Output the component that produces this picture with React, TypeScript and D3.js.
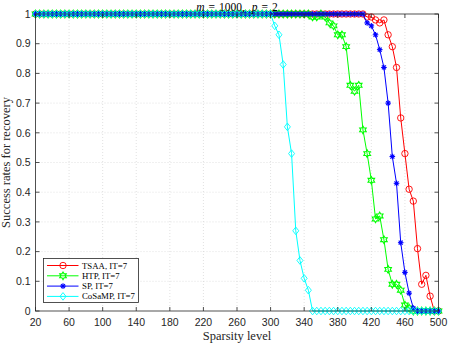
import React from "react";
import * as d3 from "d3";

// sparsity levels 20..500, step 5
const sparsity = [
  20, 25, 30, 35, 40, 45, 50, 55, 60, 65, 70, 75, 80, 85, 90, 95, 100, 105, 110, 115,
  120, 125, 130, 135, 140, 145, 150, 155, 160, 165, 170, 175, 180, 185, 190, 195, 200,
  205, 210, 215, 220, 225, 230, 235, 240, 245, 250, 255, 260, 265, 270, 275, 280, 285,
  290, 295, 300, 305, 310, 315, 320, 325, 330, 335, 340, 345, 350, 355, 360, 365, 370,
  375, 380, 385, 390, 395, 400, 405, 410, 415, 420, 425, 430, 435, 440, 445, 450, 455,
  460, 465, 470, 475, 480, 485, 490, 495, 500,
];

// TSAA: 20..410 all recovered
const tsaa = [
  1, 1, 1, 1, 1, 1, 1, 1, 1, 1, 1, 1, 1, 1, 1, 1, 1, 1, 1, 1,
  1, 1, 1, 1, 1, 1, 1, 1, 1, 1, 1, 1, 1, 1, 1, 1, 1, 1, 1, 1,
  1, 1, 1, 1, 1, 1, 1, 1, 1, 1, 1, 1, 1, 1, 1, 1, 1, 1, 1, 1,
  1, 1, 1, 1, 1, 1, 1, 1, 1, 1, 1, 1, 1, 1, 1, 1, 1, 1, 1,
  0.99, 0.99, 0.98, 0.97, 0.98, 0.93, 0.89, 0.82, 0.65, 0.53, 0.41, 0.37, 0.21, 0.09,
  0.12, 0.05, 0, 0,
];

const htp = [
  1, 1, 1, 1, 1, 1, 1, 1, 1, 1, 1, 1, 1, 1, 1, 1, 1, 1, 1, 1,
  1, 1, 1, 1, 1, 1, 1, 1, 1, 1, 1, 1, 1, 1, 1, 1, 1, 1, 1, 1,
  1, 1, 1, 1, 1, 1, 1, 1, 1, 1, 1, 1, 1, 1, 1, 1, 1, 1, 1, 1,
  1, 1, 1, 1, 1, 1,
  0.99, 0.99, 1, 0.99, 0.97, 0.96, 0.93, 0.93, 0.89, 0.76, 0.74, 0.76, 0.61, 0.53,
  0.44, 0.31, 0.32, 0.24, 0.14, 0.09, 0.09, 0.07, 0.02, 0.01,
  0, 0, 0, 0, 0, 0, 0,
];

const sp = [
  1, 1, 1, 1, 1, 1, 1, 1, 1, 1, 1, 1, 1, 1, 1, 1, 1, 1, 1, 1,
  1, 1, 1, 1, 1, 1, 1, 1, 1, 1, 1, 1, 1, 1, 1, 1, 1, 1, 1, 1,
  1, 1, 1, 1, 1, 1, 1, 1, 1, 1, 1, 1, 1, 1, 1, 1, 1, 1, 1, 1,
  1, 1, 1, 1, 1, 1, 1, 1, 1, 1, 1, 1, 1, 1, 1, 1, 1, 1, 1,
  0.97, 0.96, 0.93, 0.88, 0.82, 0.7, 0.52, 0.43, 0.23, 0.13, 0.06, 0.01,
  0, 0, 0, 0, 0, 0,
];

const cosamp = [
  1, 1, 1, 1, 1, 1, 1, 1, 1, 1, 1, 1, 1, 1, 1, 1, 1, 1, 1, 1,
  1, 1, 1, 1, 1, 1, 1, 1, 1, 1, 1, 1, 1, 1, 1, 1, 1, 1, 1, 1,
  1, 1, 1, 1, 1, 1, 1, 1, 1, 1, 1, 1, 1, 1, 1, 1, 1,
  0.96, 0.93, 0.83, 0.62, 0.53, 0.27, 0.17, 0.11, 0.07,
  0, 0, 0, 0, 0, 0, 0, 0, 0, 0, 0, 0, 0, 0, 0, 0,
  0, 0, 0, 0, 0, 0, 0, 0, 0, 0, 0, 0, 0, 0, 0,
];

const xTicks = [20, 60, 100, 140, 180, 220, 260, 300, 340, 380, 420, 460, 500];
const yTicks = [0, 0.1, 0.2, 0.3, 0.4, 0.5, 0.6, 0.7, 0.8, 0.9, 1];

const seriesList = [
  { name: "TSAA, IT=7", values: tsaa, color: "#ff0000", marker: "circle" },
  { name: "HTP, IT=7", values: htp, color: "#00ff00", marker: "hexagram" },
  { name: "SP, IT=7", values: sp, color: "#0000ff", marker: "asterisk" },
  { name: "CoSaMP, IT=7", values: cosamp, color: "#00ffff", marker: "diamond" },
];

const W = 449;
const H = 345;
const left = 35.5;
const right = 438.5;
const top = 14;
const bottom = 311;
const axisColor = "#262626";
const sans = "'Liberation Sans', Arial, sans-serif";
const serif = "'Liberation Serif', 'Times New Roman', serif";

// 6 pointed star outline
const hexagramPath = (R: number) => {
  const r = R / Math.sqrt(3);
  const pts: string[] = [];
  for (let k = 0; k < 12; k++) {
    const a = (Math.PI / 6) * k - Math.PI / 2;
    const rr = k % 2 === 0 ? R : r;
    pts.push(`${(rr * Math.cos(a)).toFixed(2)},${(rr * Math.sin(a)).toFixed(2)}`);
  }
  return "M" + pts.join("L") + "Z";
};

const Marker = ({ type, x, y, color }: { type: string; x: number; y: number; color: string }) => {
  if (type === "circle") {
    return <circle cx={x} cy={y} r={3.2} fill="none" stroke={color} strokeWidth={0.9} />;
  }
  if (type === "hexagram") {
    return (
      <path d={hexagramPath(3.8)} transform={`translate(${x},${y})`} fill="none" stroke={color} strokeWidth={1.1} />
    );
  }
  if (type === "asterisk") {
    const s = 2.8;
    const d = s * 0.72;
    return (
      <g transform={`translate(${x},${y})`} stroke={color} strokeWidth={1.1}>
        <line x1={-s} y1={0} x2={s} y2={0} />
        <line x1={0} y1={-s} x2={0} y2={s} />
        <line x1={-d} y1={-d} x2={d} y2={d} />
        <line x1={-d} y1={d} x2={d} y2={-d} />
        <circle r={1.3} fill={color} stroke="none" />
      </g>
    );
  }
  return (
    <path
      d="M0,-3.8L3,0L0,3.8L-3,0Z"
      transform={`translate(${x},${y})`}
      fill="none"
      stroke={color}
      strokeWidth={0.9}
    />
  );
};

export default function App() {
  const x = d3.scaleLinear().domain([20, 500]).range([left, right]);
  const y = d3.scaleLinear().domain([0, 1]).range([bottom, top]);

  const line = d3
    .line<number>()
    .x((_, i) => x(sparsity[i]))
    .y((d) => y(d));

  const legendX = 43.5;
  const legendY = 258.5;

  return (
    <svg
      width={W}
      height={H}
      style={{ position: "absolute", left: 0, top: 0, background: "#fff" }}
    >
      <rect x={0} y={0} width={W} height={H} fill="#fff" />

      {/* grid */}
      <g stroke="#cfcfcf" strokeWidth={0.6} strokeDasharray="1,2">
        {xTicks.slice(1, -1).map((t) => (
          <line key={"gx" + t} x1={x(t)} x2={x(t)} y1={top} y2={bottom} />
        ))}
        {yTicks.slice(1, -1).map((t) => (
          <line key={"gy" + t} x1={left} x2={right} y1={y(t)} y2={y(t)} />
        ))}
      </g>

      {/* series */}
      {seriesList.map((s) => (
        <g key={s.name}>
          <path d={line(s.values) || ""} fill="none" stroke={s.color} strokeWidth={1} />
          {s.values.map((v, i) => (
            <Marker key={i} type={s.marker} x={x(sparsity[i])} y={y(v)} color={s.color} />
          ))}
        </g>
      ))}

      {/* axes box + ticks */}
      <rect x={left} y={top} width={right - left} height={bottom - top} fill="none" stroke={axisColor} strokeWidth={0.8} />
      <g stroke={axisColor} strokeWidth={0.8}>
        {xTicks.map((t) => (
          <g key={"tx" + t}>
            <line x1={x(t)} x2={x(t)} y1={bottom} y2={bottom - 4} />
            <line x1={x(t)} x2={x(t)} y1={top} y2={top + 4} />
          </g>
        ))}
        {yTicks.map((t) => (
          <g key={"ty" + t}>
            <line x1={left} x2={left + 4} y1={y(t)} y2={y(t)} />
            <line x1={right} x2={right - 4} y1={y(t)} y2={y(t)} />
          </g>
        ))}
      </g>

      {/* tick labels */}
      <g fontFamily={sans} fontSize={10.5} fill={axisColor}>
        {xTicks.map((t) => (
          <text key={"lx" + t} x={x(t)} y={bottom + 15} textAnchor="middle">
            {t}
          </text>
        ))}
        {yTicks.map((t) => (
          <text key={"ly" + t} x={left - 5} y={y(t) + 3.7} textAnchor="end">
            {t}
          </text>
        ))}
      </g>

      {/* axis titles */}
      <text x={(left + right) / 2} y={340} textAnchor="middle" fontFamily={serif} fontSize={12.5} fill={axisColor}>
        Sparsity level
      </text>
      <text
        transform={`translate(10,${(top + bottom) / 2}) rotate(-90)`}
        textAnchor="middle"
        fontFamily={serif}
        fontSize={12.5}
        fill={axisColor}
      >
        Success rates for recovery
      </text>
      <text x={(left + right) / 2} y={10.5} textAnchor="middle" fontFamily={serif} fontSize={11.5} fill="#000">
        <tspan fontStyle="italic">m</tspan>
        <tspan dx={4}>=</tspan>
        <tspan dx={4}>1000,</tspan>
        <tspan dx={7} fontStyle="italic">p</tspan>
        <tspan dx={4}>=</tspan>
        <tspan dx={4}>2</tspan>
      </text>

      {/* legend */}
      <g>
        <rect x={legendX} y={legendY} width={95} height={44} fill="#fff" stroke={axisColor} strokeWidth={0.8} />
        {seriesList.map((s, i) => {
          const ly = legendY + 7 + i * 10.3;
          return (
            <g key={"lg" + s.name}>
              <line x1={legendX + 3.5} x2={legendX + 35} y1={ly} y2={ly} stroke={s.color} strokeWidth={1} />
              <Marker type={s.marker} x={legendX + 19.5} y={ly} color={s.color} />
              <text x={legendX + 38.5} y={ly + 3} fontFamily={serif} fontSize={8.8} fill="#000">
                {s.name}
              </text>
            </g>
          );
        })}
      </g>
    </svg>
  );
}
